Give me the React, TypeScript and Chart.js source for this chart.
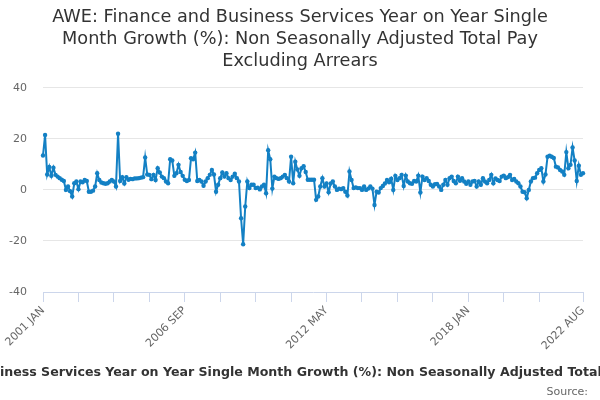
import React, { useEffect, useRef } from 'react';
import { Chart, registerables } from 'chart.js';

Chart.register(...registerables);

const FONT = '"DejaVu Sans", Verdana, sans-serif';

const TITLE_LINES = [
  'AWE: Finance and Business Services Year on Year Single',
  'Month Growth (%): Non Seasonally Adjusted Total Pay',
  'Excluding Arrears',
];
const LEGEND_LABEL =
  'AWE: Finance and Business Services Year on Year Single Month Growth (%): Non Seasonally Adjusted Total Pay Excluding Arrears';
const SOURCE_TEXT = 'Source:';

const START_YEAR = 2001;
const MONTH_NAMES = ['JAN', 'FEB', 'MAR', 'APR', 'MAY', 'JUN', 'JUL', 'AUG', 'SEP', 'OCT', 'NOV', 'DEC'];

// Monthly values, 2001 JAN .. 2022 AUG
const VALUES = [
  13.5, 21.5, 6, 9, 5.5, 8.7, 5.9, 5.2, 4.6, 4.0,
  3.5, 0, 1.3, -0.5, -2.6, 2.6, 3.3, 0.3, 3.3, 3.0,
  3.9, 3.5, -0.7, -0.7, -0.3, 1.3, 6.5, 3.9, 2.9, 2.6,
  2.4, 2.6, 3.3, 3.9, 3.3, 1.3, 22, 3.5, 5, 2.5,
  5, 4, 4.3, 4.2, 4.5, 4.5, 4.6, 4.8, 5, 12.7,
  6, 5.9, 4.2, 5.9, 3.9, 8.5, 6.8, 5.2, 4.6, 3.3,
  2.6, 12, 11.5, 5.5, 6.5, 9.8, 7, 5.5, 4, 3.5,
  3.9, 12.4, 12, 14.6, 3.5, 3.9, 3.3, 1.6, 3.3, 4.6,
  5.9, 7.8, 6, -0.7, 2, 4.6, 6.8, 5.2, 6.5, 4.6,
  3.9, 5.2, 6.3, 4.6, 3.3, -11.1, -21.3, -6.5, 3.3, 0.7,
  2, 2, 0.7, 0.9, 0.2, 1.3, 2, -1.3, 15.5, 12,
  0.5, 5.2, 4.6, 4.3, 4.6, 5.2, 5.9, 4.6, 3.3, 13,
  2.6, 11, 8, 5.5, 8.5, 9.3, 7, 4, 4, 4,
  4, -3.9, -2.6, 1.3, 4.6, 1.3, 2.5, -0.9, 2.5, 3.3,
  1.3, 0, 0.5, 0.3, 0.7, -0.7, -2.2, 7.2, 3.9, 0.7,
  1, 0.7, 0.7, 0, 1.3, 0, 0.5, 1.3, 0.5, -5.9,
  -0.7, -1, 0.7, 1.5, 2.5, 3.9, 3, 4.4, 0, 5.5,
  3.9, 4.6, 5.9, 1.5, 5.6, 3.3, 2.6, 2.4, 3.5, 3.3,
  5.6, -1, 5.2, 3.9, 4.6, 3.5, 2, 1.3, 2.2, 2.3,
  1.3, 0, 2, 3.9, 2, 4.6, 5.2, 3.5, 2.6, 5.2,
  3.6, 4.6, 3.3, 2.4, 3.3, 2, 3.3, 3.5, 1.3, 3.3,
  2, 4.6, 3.3, 2.6, 3.9, 5.9, 2.6, 4.5, 3.9, 3.5,
  5.2, 5.6, 4.6, 5, 5.9, 3.9, 4.3, 3.3, 2.6, 1.3,
  -0.7, -0.9, -3.3, 0, 3.3, 4.6, 4.8, 6.5, 7.8, 8.5,
  3.3, 6, 13, 13.4, 13, 12.5, 9.1, 8.8, 7.8, 7.2,
  5.9, 14.8, 8.5, 9.8, 16.6, 11.5, 3.5, 9.5, 5.9, 6.5,
];

const CATEGORIES = VALUES.map(
  (_, i) => `${START_YEAR + Math.floor(i / 12)} ${MONTH_NAMES[i % 12]}`
);

// x-axis tick marks every 17 months plus the last month; labels on these
const TICK_EVERY = 17;
const SHOWN_TICK_LABELS = ['2001 JAN', '2006 SEP', '2012 MAY', '2018 JAN', '2022 AUG'];

const Y_MIN = -40;
const Y_MAX = 40;
const Y_STEP = 20;

const LINE_COLOR = '#1380c4';

const bottomTextPlugin = {
  id: 'bottomText',
  afterDraw(chart: any) {
    const ctx = chart.ctx;
    ctx.save();
    ctx.font = `bold 12.6px ${FONT}`;
    ctx.fillStyle = '#333333';
    ctx.textAlign = 'center';
    ctx.textBaseline = 'middle';
    ctx.fillText(LEGEND_LABEL, 302, 373);
    ctx.font = `11px ${FONT}`;
    ctx.fillStyle = '#666666';
    ctx.textAlign = 'right';
    ctx.fillText(SOURCE_TEXT, 588, 392);
    ctx.restore();
  },
};

export default function App() {
  const canvasRef = useRef<HTMLCanvasElement | null>(null);

  useEffect(() => {
    const canvas = canvasRef.current;
    if (!canvas) return;
    const chart = new Chart(canvas, {
      type: 'line',
      data: {
        labels: CATEGORIES,
        datasets: [
          {
            label: LEGEND_LABEL,
            data: VALUES,
            borderColor: LINE_COLOR,
            backgroundColor: LINE_COLOR,
            borderWidth: 2,
            pointRadius: 2.2,
            pointBorderWidth: 0,
            pointBackgroundColor: LINE_COLOR,
            tension: 0,
          },
        ],
      },
      options: {
        responsive: false,
        animation: false,
        layout: { padding: { left: 0, right: 0, top: 0, bottom: 0 } },
        plugins: {
          legend: { display: false },
          tooltip: { enabled: false },
          title: {
            display: true,
            text: TITLE_LINES,
            color: '#333333',
            font: { family: FONT, size: 17.7, weight: 'normal', lineHeight: 1.22 },
            padding: { top: 7, bottom: 16 },
          },
        },
        scales: {
          x: {
            type: 'category',
            offset: false,
            afterFit: (scale: any) => {
              scale.height = 108;
              scale.paddingRight = 17;
            },
            afterBuildTicks: (scale: any) => {
              const n = CATEGORIES.length;
              const ticks: any[] = [];
              for (let v = 0; v < n - TICK_EVERY / 2; v += TICK_EVERY) ticks.push({ value: v });
              ticks.push({ value: n - 1 });
              scale.ticks = ticks;
            },
            grid: {
              drawOnChartArea: false,
              drawTicks: true,
              tickLength: 10,
              color: '#ccd6eb',
            },
            border: { display: true, color: '#ccd6eb' },
            ticks: {
              autoSkip: false,
              maxRotation: 45,
              minRotation: 45,
              padding: 2,
              color: '#666666',
              font: { family: FONT, size: 11 },
              callback: (value: any) => {
                const label = CATEGORIES[Number(value)];
                return SHOWN_TICK_LABELS.includes(label) ? label : '';
              },
            },
          },
          y: {
            min: Y_MIN,
            max: Y_MAX,
            afterFit: (scale: any) => {
              scale.width = 43;
            },
            grid: {
              drawTicks: false,
              color: (ctx: any) => (ctx.tick && ctx.tick.value === Y_MIN ? 'rgba(0,0,0,0)' : '#e6e6e6'),
            },
            border: { display: false },
            ticks: {
              stepSize: Y_STEP,
              padding: 16,
              color: '#666666',
              font: { family: FONT, size: 11 },
            },
          },
        },
      },
      plugins: [bottomTextPlugin],
    });
    return () => chart.destroy();
  }, []);

  return (
    <div style={{ position: 'fixed', left: 0, top: 0, width: 600, height: 400, background: '#ffffff' }}>
      <canvas ref={canvasRef} width={600} height={400} />
    </div>
  );
}
